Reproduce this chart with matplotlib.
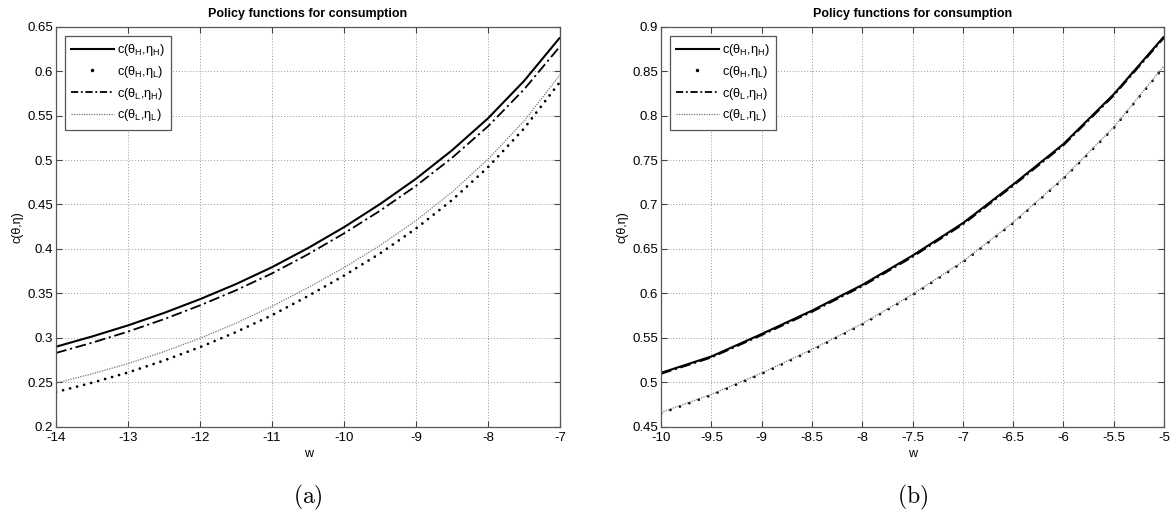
import numpy as np
import matplotlib.pyplot as plt
from matplotlib.lines import Line2D

plt.rcParams['font.family'] = ['Liberation Sans', 'DejaVu Sans']

# Panel (a): values, w step 0.5
w_a = [-14, -13.5, -13, -12.5, -12, -11.5, -11, -10.5, -10, -9.5, -9, -8.5, -8, -7.5, -7]
c_HH_a = [0.290, 0.3015, 0.314, 0.328, 0.3435, 0.3605, 0.3795, 0.401, 0.4245, 0.4505, 0.479, 0.511, 0.547, 0.589, 0.638]
c_HL_a = [0.239, 0.2495, 0.261, 0.2745, 0.2895, 0.3065, 0.3255, 0.347, 0.370, 0.395, 0.423, 0.455, 0.492, 0.5355, 0.588]
c_LH_a = [0.283, 0.2945, 0.307, 0.321, 0.3365, 0.3535, 0.3725, 0.394, 0.4175, 0.443, 0.471, 0.5025, 0.538, 0.5795, 0.628]
c_LL_a = [0.249, 0.2595, 0.271, 0.2845, 0.2995, 0.3165, 0.3355, 0.3565, 0.379, 0.404, 0.432, 0.464, 0.501, 0.544, 0.596]

# Panel (b)
w_b = [-10, -9.5, -9, -8.5, -8, -7.5, -7, -6.5, -6, -5.5, -5]
c_HH_b = [0.5106, 0.5290, 0.5543, 0.5806, 0.6095, 0.6425, 0.6790, 0.7225, 0.7680, 0.8240, 0.8890]
c_LH_b = [0.5095, 0.5278, 0.5530, 0.5792, 0.6080, 0.6410, 0.6775, 0.7210, 0.7665, 0.8225, 0.8875]
c_HL_b = [0.4650, 0.4855, 0.5095, 0.5360, 0.5650, 0.5980, 0.6350, 0.6790, 0.7290, 0.7860, 0.8550]
c_LL_b = [0.4660, 0.4865, 0.5105, 0.5370, 0.5660, 0.5990, 0.6360, 0.6800, 0.7300, 0.7870, 0.8560]

xticks_a = np.arange(-14, -6.5, 1)
yticks_a = np.arange(0.2, 0.651, 0.05)
xticks_b = np.arange(-10, -4.9, 0.5)
yticks_b = np.arange(0.45, 0.901, 0.05)

labels = [r'c(θ$_{\mathregular{H}}$,η$_{\mathregular{H}}$)',
          r'c(θ$_{\mathregular{H}}$,η$_{\mathregular{L}}$)',
          r'c(θ$_{\mathregular{L}}$,η$_{\mathregular{H}}$)',
          r'c(θ$_{\mathregular{L}}$,η$_{\mathregular{L}}$)']

fig = plt.figure(figsize=(11.7, 5.27), dpi=100)
ax1 = fig.add_axes([0.0479, 0.1903, 0.4308, 0.759])
ax2 = fig.add_axes([0.565, 0.1903, 0.4299, 0.759])


def tick_fmt(v):
    s = ('%.2f' % v).rstrip('0').rstrip('.')
    return s


def draw(ax, w, hh, hl, lh, ll, xt, yt, gap):
    ax.plot(w, hh, color='k', lw=1.5, solid_capstyle='butt')
    ax.plot(w, hl, color='k', lw=2.0, linestyle=(0, (0.01, gap)), dash_capstyle='round')
    ax.plot(w, lh, color='k', lw=1.3, linestyle=(0, (6, 2, 1.2, 2)))
    ax.plot(w, ll, color='#777777', lw=0.9, linestyle=(0, (1, 1)))
    ax.set_xlim(xt[0], xt[-1])
    ax.set_ylim(yt[0], yt[-1])
    ax.set_xticks(xt)
    ax.set_yticks(yt)
    ax.set_xticklabels([tick_fmt(v) for v in xt])
    ax.set_yticklabels([tick_fmt(v) for v in yt])
    ax.tick_params(direction='in', length=4, width=0.8, labelsize=9.5,
                   top=True, right=True, color='#444444')
    ax.tick_params(axis='x', pad=4)
    ax.tick_params(axis='y', pad=2)
    ax.grid(True, color='#999999', linestyle=(0, (1, 2)), lw=0.7)
    for sp in ax.spines.values():
        sp.set_color('#555555')
        sp.set_linewidth(0.9)
    ax.set_title('Policy functions for consumption', fontsize=9, fontweight='bold', pad=7)
    ax.set_xlabel('w', fontsize=9, labelpad=3)
    ax.set_ylabel('c(θ,η)', fontsize=9, labelpad=3)

    handles = [Line2D([], [], color='k', lw=1.5),
               Line2D([], [], color='k', ls='none', marker='.', ms=3),
               Line2D([], [], color='k', lw=1.3, linestyle=(0, (4, 1.5, 1, 1.5))),
               Line2D([], [], color='#777777', lw=0.9, linestyle=(0, (1, 1)))]
    leg = ax.legend(handles, labels, loc='upper left', fontsize=9.2, fancybox=False,
                    framealpha=1, edgecolor='#555555', handlelength=3.3,
                    borderaxespad=0.7, labelspacing=0.45, handletextpad=0.3,
                    borderpad=0.5)
    leg.get_frame().set_linewidth(0.9)


draw(ax1, w_a, c_HH_a, c_HL_a, c_LH_a, c_LL_a, xticks_a, yticks_a, 2.6)
draw(ax2, w_b, c_HH_b, c_HL_b, c_LH_b, c_LL_b, xticks_b, yticks_b, 3.6)

fig.text(0.2633, 0.057, r'$\mathrm{(a)}$', ha='center', va='center', fontsize=17, math_fontfamily='cm')
fig.text(0.78, 0.057, r'$\mathrm{(b)}$', ha='center', va='center', fontsize=17, math_fontfamily='cm')

fig.savefig('out.png', dpi=100)
